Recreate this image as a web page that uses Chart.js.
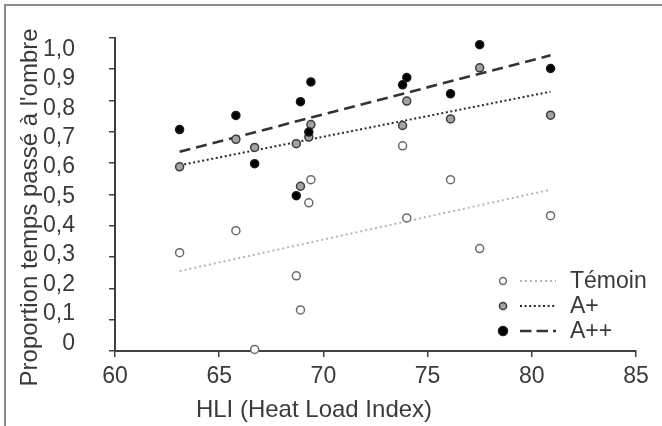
<!DOCTYPE html>
<html lang="fr">
<head>
  <meta charset="UTF-8">
  <title>Proportion temps passé à l'ombre</title>
  <script src="https://cdn.jsdelivr.net/npm/chart.js"></script>
  <style>
    html, body {
      margin: 0;
      padding: 0;
      background: #fff;
      overflow: hidden;
    }
    .wrap {
      position: relative;
      width: 662px;
      height: 426px;
    }
    .frame {
      position: absolute;
      left: 4px;
      top: 4px;
      width: 700px;
      height: 500px;
      border: 2px solid #8c8c8c;
      pointer-events: none;
    }
    #chart {
      position: absolute;
      left: 0;
      top: 0;
    }
  </style>
</head>
<body>
  <div class="wrap">
    <div class="frame"></div>
    <canvas id="chart" width="662" height="426"></canvas>
  </div>

  <script>
    // valeurs
    const hli = [63.1, 65.8, 66.7, 68.7, 68.9, 69.3, 69.4, 73.8, 74.0, 76.1, 77.5, 80.9];
    const temoin = [0.314, 0.384, 0.005, 0.240, 0.131, 0.473, 0.547, 0.655, 0.425, 0.547, 0.327, 0.432];
    const aPlus = [0.588, 0.676, 0.650, 0.662, 0.526, 0.683, 0.723, 0.720, 0.798, 0.741, 0.904, 0.753];
    const aPlusPlus = [0.707, 0.752, 0.598, 0.496, 0.796, 0.699, 0.859, 0.850, 0.873, 0.821, 0.978, 0.902];

    // droites de tendance (extrémités)
    const trendX = [63.1, 80.9];
    const temoinTrend = [0.255, 0.515];
    const aPlusTrend = [0.593, 0.828];
    const aPlusPlusTrend = [0.636, 0.944];

    const xTicks = [60, 65, 70, 75, 80, 85];
    const yTicks = [0, 0.1, 0.2, 0.3, 0.4, 0.5, 0.6, 0.7, 0.8, 0.9, 1.0];
    const yTickLabels = ['0', '0,1', '0,2', '0,3', '0,4', '0,5', '0,6', '0,7', '0,8', '0,9', '1,0'];
    const seriesNames = ['Témoin', 'A+', 'A++'];

    const axisColor = '#404040';
    const textColor = '#3a3a3a';
    const FONT = '"Liberation Sans", Arial, sans-serif';

    Chart.defaults.font.family = FONT;
    Chart.defaults.color = textColor;

    function pts(ys) {
      return ys.map((y, i) => ({ x: hli[i], y: y }));
    }
    function trend(ys) {
      return ys.map((y, i) => ({ x: trendX[i], y: y }));
    }

    const pointStyles = [
      { bg: '#ffffff', border: '#6a6a6a' },
      { bg: '#a3a3a3', border: '#3c3c3c' },
      { bg: '#000000', border: '#1a1a1a' }
    ];
    const lineStyles = [
      { color: '#b5b5b5', width: 2, dash: [2, 3] },
      { color: '#2a2a2a', width: 2, dash: [2, 2.6] },
      { color: '#333333', width: 2.6, dash: [11, 6] }
    ];

    function scatterSet(name, ys, k, order) {
      return {
        type: 'scatter',
        label: name,
        data: pts(ys),
        backgroundColor: pointStyles[k].bg,
        borderColor: pointStyles[k].border,
        borderWidth: 1.5,
        pointRadius: 4,
        order: order,
        clip: false
      };
    }
    function trendSet(name, ys, k, order) {
      return {
        type: 'line',
        label: name + ' tendance',
        data: trend(ys),
        borderColor: lineStyles[k].color,
        borderWidth: lineStyles[k].width,
        borderDash: lineStyles[k].dash,
        pointRadius: 0,
        fill: false,
        order: order,
        clip: false
      };
    }

    // légende + titres des axes
    const extras = {
      id: 'extras',
      afterDraw(chart) {
        const ctx = chart.ctx;
        const area = chart.chartArea;
        ctx.save();
        ctx.fillStyle = textColor;
        ctx.font = '24px ' + FONT;

        // titre axe X
        ctx.textAlign = 'center';
        ctx.textBaseline = 'alphabetic';
        ctx.fillText('HLI (Heat Load Index)', area.left + 199, 417);

        // titre axe Y
        ctx.save();
        ctx.translate(37, (area.top + area.bottom) / 2 + 13);
        ctx.rotate(-Math.PI / 2);
        ctx.fillText("Proportion temps passé à l'ombre", 0, 0);
        ctx.restore();

        // légende
        ctx.font = '23px ' + FONT;
        const mx = area.right - 133;
        const radii = [3.4, 3.6, 4.8];
        seriesNames.forEach((name, i) => {
          const y = area.bottom - 70 + i * 25;
          ctx.beginPath();
          ctx.arc(mx, y, radii[i], 0, Math.PI * 2);
          ctx.fillStyle = pointStyles[i].bg;
          ctx.fill();
          ctx.lineWidth = i === 2 ? 1 : 1.5;
          ctx.strokeStyle = pointStyles[i].border;
          ctx.stroke();

          ctx.beginPath();
          ctx.setLineDash(i === 2 ? [11.5, 5] : lineStyles[i].dash);
          ctx.lineWidth = lineStyles[i].width;
          ctx.strokeStyle = lineStyles[i].color;
          ctx.moveTo(mx + 17, y);
          ctx.lineTo(mx + 53, y);
          ctx.stroke();
          ctx.setLineDash([]);

          ctx.fillStyle = textColor;
          ctx.textAlign = 'left';
          ctx.textBaseline = 'middle';
          ctx.fillText(name, mx + 67, y + 1);
        });
        ctx.restore();
      }
    };

    new Chart(document.getElementById('chart'), {
      type: 'scatter',
      data: {
        datasets: [
          scatterSet(seriesNames[2], aPlusPlus, 2, 0),
          scatterSet(seriesNames[1], aPlus, 1, 1),
          scatterSet(seriesNames[0], temoin, 0, 2),
          trendSet(seriesNames[2], aPlusPlusTrend, 2, 3),
          trendSet(seriesNames[1], aPlusTrend, 1, 4),
          trendSet(seriesNames[0], temoinTrend, 0, 5)
        ]
      },
      options: {
        responsive: false,
        animation: false,
        devicePixelRatio: 1,
        layout: { padding: { left: 0, right: 26, top: 29, bottom: 0 } },
        plugins: {
          legend: { display: false },
          tooltip: { enabled: false }
        },
        scales: {
          x: {
            type: 'linear',
            min: 60,
            max: 85,
            afterBuildTicks: (s) => { s.ticks = xTicks.map(v => ({ value: v })); },
            afterFit: (s) => { s.height = 75; },
            ticks: {
              font: { size: 23 },
              color: textColor,
              padding: 6,
              maxRotation: 0
            },
            grid: {
              drawOnChartArea: false,
              drawTicks: true,
              tickLength: 6,
              color: axisColor,
              lineWidth: 1.5
            },
            border: { color: axisColor, width: 2 }
          },
          y: {
            type: 'linear',
            position: 'left',
            weight: 0,
            min: 0,
            max: 1,
            afterBuildTicks: (s) => { s.ticks = yTicks.map(v => ({ value: v })); },
            afterFit: (s) => { s.width = 8; },
            ticks: { display: false },
            grid: {
              drawOnChartArea: false,
              drawTicks: true,
              tickLength: 6,
              color: axisColor,
              lineWidth: 1.5
            },
            border: { color: axisColor, width: 2 }
          },
          // étiquettes de l'axe Y, un peu resserrées comme sur l'original
          yLabels: {
            type: 'linear',
            position: 'left',
            weight: 1,
            min: -0.0265,
            max: 1.0397,
            afterBuildTicks: (s) => { s.ticks = yTicks.map(v => ({ value: v })); },
            afterFit: (s) => { s.width = 107; },
            ticks: {
              font: { size: 23 },
              color: textColor,
              padding: 24,
              callback: (v, i) => yTickLabels[i]
            },
            grid: { display: false },
            border: { display: false }
          }
        }
      },
      plugins: [extras]
    });
  </script>
</body>
</html>
